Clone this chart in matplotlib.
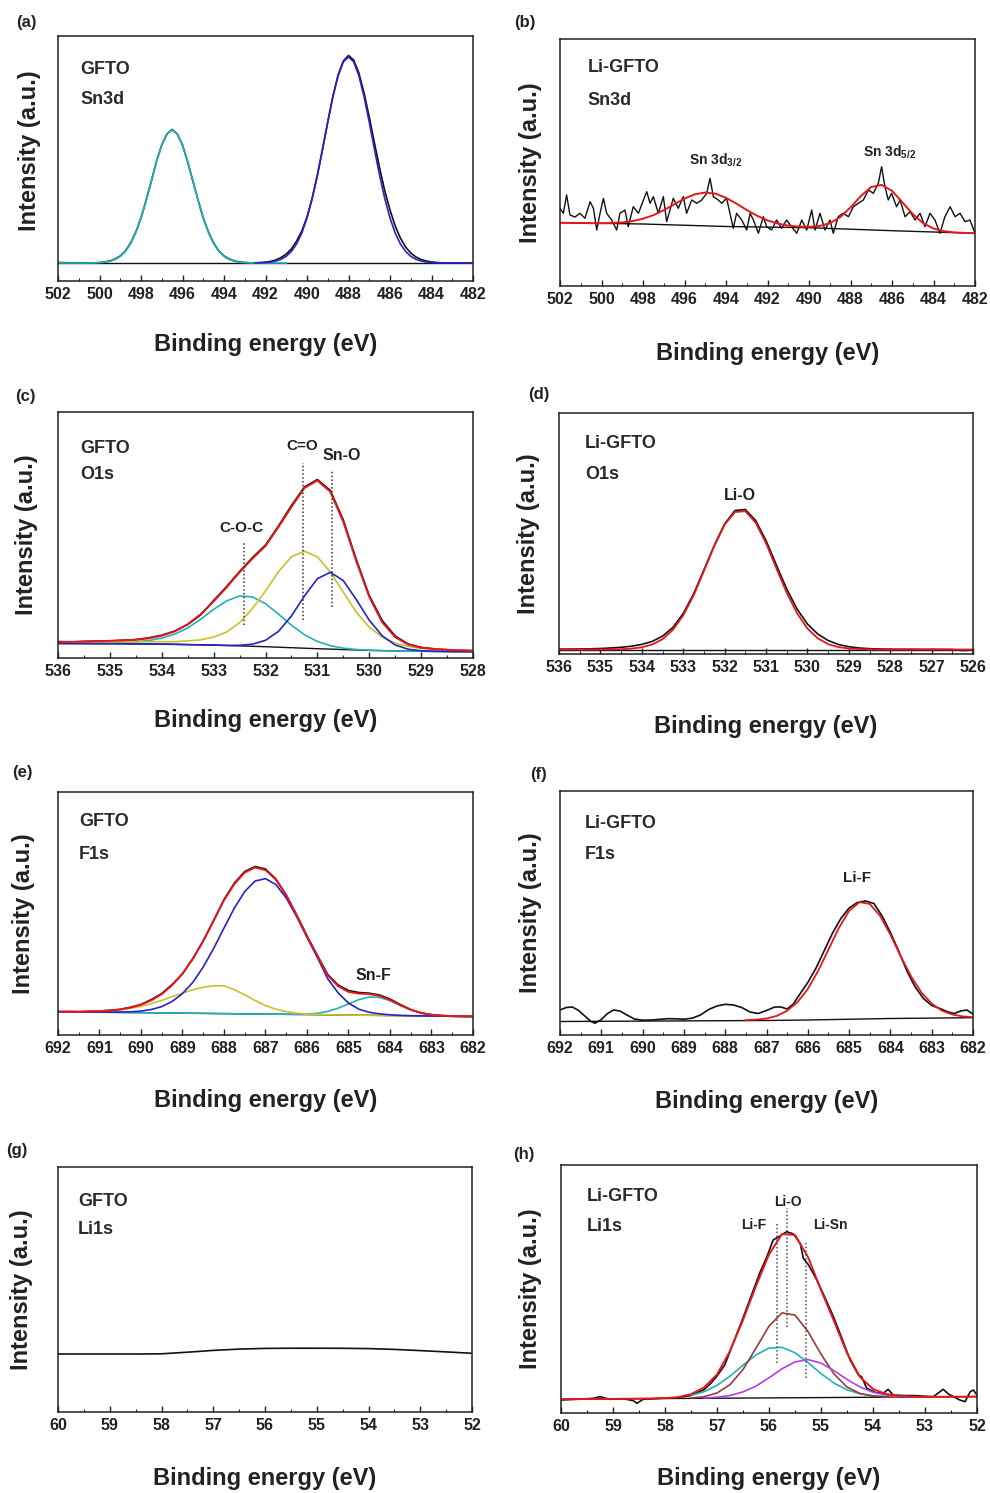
import numpy as np
import matplotlib
matplotlib.use("Agg")
import matplotlib.pyplot as plt

plt.rcParams["font.family"] = ["Liberation Sans", "DejaVu Sans"]
plt.rcParams["font.weight"] = "bold"
plt.rcParams["axes.labelweight"] = "bold"
plt.rcParams["mathtext.default"] = "regular"
plt.rcParams["lines.solid_joinstyle"] = "round"

TXT = "#222222"
CYAN = "#1fb3b8"
BLUE = "#2424c8"
RED = "#e8161b"
YEL = "#c9c22a"
BROWN = "#9a3b3b"
PURPLE = "#b23fe6"
BLK = "#111111"

# ---------------- (a) GFTO Sn3d  (grid step 0.25 eV) ----------------
a_cyan_start, a_blue_start, a_raw_start = 502.0, 492.5, 502.0
a_cyan = [18, 18, 18, 18, 18, 18, 18, 18.1, 18.4, 18.8, 19.7, 21.5, 24.6, 29.6, 37.4,
          48.5, 63.1, 80.7, 100.2, 119.5, 136, 147.1, 151, 147.1, 136, 119.5, 100.2,
          80.7, 63.1, 48.5, 37.4, 29.6, 24.6, 21.5, 19.7, 18.8, 18.4, 18.1, 18, 18,
          18, 18, 18, 18, 18]
a_blue = [18.1, 18.2, 18.5, 19, 20, 21.7, 24.7, 29.6, 37.1, 48, 63, 82.3, 105.5, 131.7,
          158.9, 184.3, 205.3, 219.2, 224, 219.2, 205.3, 184.3, 158.9, 131.7, 105.5,
          82.3, 63, 48, 37.1, 29.6, 24.7, 21.7, 20, 19, 18.5, 18.2, 18.1, 18, 18, 18,
          18, 18, 18]
a_raw = [18.5, 18.3, 18.2, 18, 18, 18, 18, 18.1, 18.4, 19, 20, 22, 25, 30, 38, 49, 63,
         81, 100, 120, 136, 147, 151.5, 147, 136, 119, 100, 81, 63, 49, 38, 30, 25, 22,
         20, 19, 18.5, 18.2, 18.2, 18.4, 18.8, 19.6, 21, 23.5, 27, 32, 40, 50, 64, 83,
         106, 132, 159, 185, 206, 220, 225.5, 221, 208, 188, 164, 138, 113, 90, 71, 55,
         43, 34, 28, 24, 21.5, 20, 19, 18.5, 18.2, 18, 18, 18, 18, 18, 18]
a_base_x, a_base_y = [502, 482], [18, 18]

# ---------------- (b) Li-GFTO Sn3d ----------------
b_raw_x = [502.00, 501.84, 501.68, 501.52, 501.28, 501.04, 500.80, 500.55, 500.39, 500.23,
           500.07, 499.91, 499.75, 499.51, 499.27, 499.11, 498.87, 498.71, 498.47, 498.22,
           497.98, 497.82, 497.66, 497.50, 497.26, 497.02, 496.86, 496.70, 496.54, 496.30,
           496.06, 495.90, 495.65, 495.41, 495.17, 494.93, 494.77, 494.61, 494.37, 494.21,
           493.97, 493.81, 493.65, 493.49, 493.24, 493.00, 492.84, 492.68, 492.44, 492.20,
           492.04, 491.80, 491.56, 491.32, 491.08, 490.84, 490.59, 490.35, 490.11, 489.87,
           489.71, 489.47, 489.23, 488.99, 488.83, 488.59, 488.35, 488.10, 487.86, 487.62,
           487.38, 487.14, 486.90, 486.66, 486.50, 486.34, 486.18, 486.02, 485.78, 485.61,
           485.37, 485.13, 484.89, 484.65, 484.41, 484.17, 483.93, 483.69, 483.45, 483.20,
           482.96, 482.72, 482.48, 482.24, 482.00]
b_raw_y = [77.7, 72.7, 91, 71, 69, 72.7, 67.7, 84.3, 77.7, 56, 72.7, 87.7, 72.7, 66, 56,
           72.7, 76, 59.3, 79.3, 72.7, 86, 94.3, 82.7, 89.3, 72.7, 89.3, 64.3, 76, 87.7,
           77.7, 89.3, 72.7, 86, 82.7, 86, 92.7, 107.7, 89.3, 86, 82.7, 87.7, 72.7, 57.7,
           72.7, 66, 56, 72.7, 66, 52.7, 69.3, 59.3, 56, 66, 57.7, 66, 59.3, 52.7, 66, 56,
           76, 56, 72.7, 56, 66, 52.7, 69.3, 72.7, 69.3, 79.3, 82.7, 86, 96, 92.7, 102.7,
           119.3, 99.3, 86, 92.7, 79.3, 86, 69.3, 74.3, 66, 72.7, 59.3, 72.7, 66, 52.7,
           69.3, 79.3, 69.3, 72.7, 64.3, 66, 52.7]
b_fit = [63.3, 63.1, 63.0, 62.8, 62.7, 63.1, 63.6, 64.9, 67.3, 70.8, 75.8, 81.6, 87.4,
         91.7, 93.5, 92.3, 88.2, 82.4, 76.0, 70.2, 65.6, 62.4, 60.4, 59.4, 59.2, 60.0,
         62.7, 68.8, 78.5, 90.0, 99.0, 101.1, 95.2, 83.7, 71.9, 62.8, 57.5, 54.8, 53.6,
         53.1, 52.7]  # 502 -> 482, step 0.5
b_base_x = [502, 498, 494, 490, 486, 482]
b_base_y = [63.3, 62.0, 59.5, 58.3, 55.3, 52.7]

# ---------------- (c) GFTO O1s (536 -> 528, step 0.25) ----------------
c_base = [14.5, 14.45, 14.4, 14.35, 14.3, 14.2, 14.1, 14.0, 13.9, 13.65, 13.4, 13.15, 12.9,
          12.5, 12.1, 11.7, 11.3, 10.8, 10.3, 9.8, 9.3, 8.9, 8.45, 8.0, 7.6, 7.35, 7.1,
          6.9, 6.7, 6.6, 6.5, 6.4, 6.3]
c_coc = [15.0, 15.05, 15.1, 15.25, 15.5, 15.7, 16.2, 17.5, 19.9, 23.85, 30.0, 38.75, 48.6,
         57.1, 62.0, 61.0, 54.3, 43.9, 32.8, 23.3, 16.5, 12.3, 9.85, 8.5, 7.8, 7.4, 7.1,
         6.9, 6.7, 6.6, 6.5, 6.4, 6.3]
c_co = [15.5, 15.55, 15.7, 15.85, 16.0, 16.1, 16.1, 16.2, 16.3, 16.35, 17.1, 18.15, 20.9,
        25.9, 35.3, 49.6, 67.0, 86.4, 101.2, 106.8, 101.1, 86.0, 65.85, 45.9, 30.8, 20.85,
        14.9, 11.6, 9.7, 8.85, 8.2, 7.7, 7.4]
c_sno = [14.5, 14.45, 14.4, 14.35, 14.3, 14.2, 14.1, 14.0, 13.9, 13.65, 13.4, 13.15, 12.9,
         12.6, 12.7, 13.8, 17.7, 26.6, 42.0, 61.9, 79.3, 85.7, 77.35, 58.4, 37.8, 22.15,
         13.0, 8.8, 7.2, 6.7, 6.5, 6.4, 6.3]
c_fit = [16.0, 16.15, 16.4, 16.75, 17.2, 17.6, 18.2, 19.7, 22.3, 26.55, 33.7, 43.75, 56.6,
         70.6, 85.8, 99.5, 112.0, 131.0, 151.0, 170.0, 177.5, 166.2, 136.15, 96.8, 61.2,
         35.7, 20.8, 13.5, 10.2, 8.95, 8.2, 7.7, 7.4]
c_raw = [16.5, 16.0, 16.6, 16.9, 17.0, 17.8, 18.4, 20.2, 22.8, 26.9, 33.4, 43.0, 57.5,
         71.5, 86.5, 100.5, 113.0, 132.0, 152.5, 171.0, 178.5, 167.5, 138.0, 98.5, 62.5,
         37.5, 22.0, 14.0, 10.6, 9.2, 8.2, 7.6, 7.2]

# ---------------- (d) Li-GFTO O1s (536 -> 526, step 0.25) ----------------
d_fit = [4.5, 4.5, 4.5, 4.5, 4.5, 4.6, 4.8, 5.4, 6.7, 9.5, 14.8, 24.1, 38.6, 58.5, 82.9,
         108.0, 129.4, 142.0, 142.8, 131.4, 110.9, 85.8, 61.3, 40.8, 25.5, 15.7, 9.9, 6.9,
         5.5, 4.9, 4.6, 4.5, 4.5, 4.5, 4.5, 4.5, 4.5, 4.5, 4.5, 4.5, 4.5]
d_raw = [4.8, 4.9, 5.0, 5.2, 5.5, 6.0, 6.7, 7.8, 9.6, 12.6, 17.8, 26.5, 40.5, 60.0, 84.0,
         108.5, 130.0, 143.5, 144.5, 133.5, 113.5, 89.0, 65.0, 45.0, 30.0, 20.0, 13.5, 9.5,
         7.3, 6.0, 5.3, 5.0, 4.8, 4.7, 4.7, 4.6, 4.6, 4.6, 4.5, 3.5, 4.0]
d_base_x, d_base_y = [536, 526], [4.5, 4.5]

# ---------------- (e) GFTO F1s (692 -> 682, step 0.25) ----------------
e_fit = [23.4, 23.3, 23.3, 23.4, 23.8, 24.4, 25.5, 27.4, 30.3, 34.7, 40.9, 49.8, 61.5,
         76.2, 94.2, 114.2, 134.8, 151.0, 162.5, 167.5, 164.9, 155.4, 139.7, 119.9, 98.8,
         79.2, 59.7, 48.85, 43.1, 41.4, 41.0, 39.1, 35.0, 29.8, 25.2, 22.1, 20.2, 19.3,
         18.8, 18.6, 18.5]
e_raw = [23.0, 23.5, 23.2, 23.8, 24.0, 24.8, 25.6, 27.8, 30.5, 35.5, 41.5, 50.5, 61.0,
         76.5, 94.0, 114.5, 135.5, 152.0, 163.5, 168.5, 166.0, 156.0, 140.0, 120.0, 99.0,
         79.5, 60.5, 50.0, 44.5, 42.5, 41.8, 40.0, 36.0, 30.5, 25.5, 22.0, 20.3, 19.4,
         19.0, 18.7, 18.6]
e_main = [23.3, 23.2, 23.1, 22.9, 22.9, 22.8, 22.9, 23.2, 23.9, 25.5, 28.4, 33.5, 41.4,
          52.7, 68.0, 86.5, 107.0, 127.0, 143.5, 154.0, 156.4, 150.4, 137.0, 118.4, 97.7,
          77.5, 56.2, 42.1, 31.9, 25.8, 22.7, 21.1, 20.2, 19.6, 19.3, 19.1, 19.0, 18.9,
          18.7, 18.6, 18.5]
e_yel = [23.4, 23.3, 23.3, 23.4, 23.7, 24.3, 25.2, 26.7, 28.7, 31.4, 34.6, 38.3, 42.0,
         45.2, 47.8, 49.2, 49.2, 45.3, 40.1, 34.5, 29.4, 25.8, 23.4, 21.8, 21.0, 20.55,
         20.3, 20.1, 19.9, 19.8, 19.7, 19.6, 19.5, 19.3, 19.2, 19.1, 19.0, 18.9, 18.7,
         18.6, 18.5]
e_snf = [23.3, 23.2, 23.1, 22.9, 22.8, 22.7, 22.6, 22.5, 22.3, 22.2, 22.1, 22.0, 21.9,
         21.7, 21.6, 21.5, 21.4, 21.3, 21.1, 21.0, 20.9, 20.8, 20.7, 20.7, 20.9, 21.7,
         23.6, 26.8, 31.1, 35.4, 38.0, 37.6, 34.3, 29.5, 25.1, 22.0, 20.2, 19.3, 18.8,
         18.6, 18.5]
e_base_x, e_base_y = [692, 682], [23.3, 18.5]

# ---------------- (f) Li-GFTO F1s ----------------
f_raw_x = [692.0, 691.85, 691.7, 691.55, 691.4, 691.25, 691.15, 691.0, 690.85, 690.7,
           690.55, 690.4, 690.2, 690.0, 689.8, 689.6, 689.4, 689.2, 689.0, 688.8, 688.6,
           688.4, 688.2, 688.0, 687.8, 687.6, 687.4, 687.2, 687.0, 686.8, 686.65, 686.5,
           686.35, 686.2, 686.0, 685.8, 685.6, 685.4, 685.2, 685.0, 684.8, 684.6, 684.4,
           684.2, 684.0, 683.8, 683.6, 683.4, 683.2, 683.0, 682.8, 682.6, 682.45, 682.3,
           682.15, 682.0]
f_raw_y = [25.0, 27.5, 28.0, 24.5, 19.0, 13.5, 11.8, 15.5, 21.5, 25.0, 24.0, 20.5, 16.0,
           14.8, 15.0, 15.6, 16.3, 16.2, 15.8, 16.8, 20.0, 25.5, 29.0, 30.7, 30.0, 27.5,
           23.0, 21.5, 24.5, 28.0, 28.0, 26.0, 31.0, 40.5, 52.5, 67.0, 84.5, 102.0, 116.5,
           127.0, 132.5, 134.0, 131.5, 119.0, 102.5, 84.0, 64.0, 48.0, 36.5, 29.5, 26.5,
           23.0, 21.5, 24.0, 25.0, 21.0]
f_fit = [14.9, 15.4, 16.5, 19.1, 24.3, 32.9, 46.0, 64.1, 85.4, 106.9, 124.1, 132.8, 131.1,
         119.2, 100.3, 78.8, 58.7, 42.5, 31.3, 24.3, 20.5, 18.6, 17.85]  # 687.5 -> 682
f_base_x = [692, 687, 686, 684, 682]
f_base_y = [13.5, 14.5, 15.0, 16.5, 17.3]

# ---------------- (g) GFTO Li1s ----------------
g_x = [60, 59, 58.5, 58, 57.5, 57, 56.5, 56, 55.5, 55, 54.5, 54, 53.5, 53, 52.5, 52]
g_y = [58, 58, 58, 58.2, 59.8, 61.6, 62.9, 63.6, 63.8, 63.8, 63.7, 63.4, 62.6, 61.4,
       60.1, 58.7]

# ---------------- (h) Li-GFTO Li1s ----------------
h_raw_x = [60.0, 59.70, 59.38, 59.25, 59.06, 58.80, 58.61, 58.54, 58.42, 58.10, 57.78,
           57.52, 57.26, 57.13, 57.01, 56.85, 56.69, 56.50, 56.30, 56.17, 56.04, 55.92,
           55.79, 55.66, 55.53, 55.40, 55.34, 55.24, 55.08, 54.92, 54.76, 54.60, 54.44,
           54.28, 54.22, 54.12, 53.95, 53.80, 53.71, 53.61, 53.40, 53.16, 52.84, 52.65,
           52.55, 52.33, 52.23, 52.13, 52.07, 52.0]
h_raw_y = [13.0, 13.7, 14.7, 16.3, 13.7, 14.3, 12.3, 9.7, 13.7, 14.7, 15.3, 17.3, 23.0,
           29.0, 36.3, 48.0, 69.7, 95.0, 123.0, 141.0, 156.3, 173.0, 177.0, 181.3, 179.0,
           169.7, 154.7, 148.0, 133.0, 115.0, 96.3, 75.0, 53.0, 38.0, 36.3, 24.7, 20.5,
           19.7, 23.7, 18.0, 17.5, 17.3, 16.3, 23.7, 19.0, 13.0, 11.3, 21.3, 23.0, 18.0]
h_fit = [13.8, 13.9, 14.0, 14.0, 14.1, 14.2, 14.35, 14.5, 14.85, 15.8, 18.8, 25.5, 38.5,
         62.0, 93.0, 127.0, 158.5, 179.0, 178.0, 156.0, 123.0, 92.0, 60.0, 36.0, 24.0,
         19.0, 17.0, 16.3, 16.15, 16.2, 16.3, 16.3, 16.4]  # 60 -> 52
h_lio = [15.0, 16.3, 20.0, 28.3, 43.5, 64.8, 86.9, 100.1, 97.9, 81.5, 58.9, 39.0, 26.0,
         19.5, 16.9, 16.2, 16.0]  # 57.5 -> 53.5
h_lif = [17.6, 21.3, 27.6, 36.8, 47.8, 58.2, 64.9, 65.7, 60.2, 50.4, 39.4, 29.9, 23.2,
         19.2, 17.2, 16.4, 16.05]  # 57.5 -> 53.5
h_lisn = [15.0, 15.8, 17.5, 21.1, 26.9, 35.2, 44.2, 51.1, 53.4, 49.9, 42.4, 33.6, 26.0,
          20.8, 18.0, 16.7, 16.2]  # 57.25 -> 53.25
h_base_x, h_base_y = [60, 52], [13.8, 16.4]


def grid(start, step, vals):
    return start - step * np.arange(len(vals))


W, H = 990, 1493
fig = plt.figure(figsize=(W / 100, H / 100), dpi=100)


def make_ax(box, xr, major, minor, xlab_y, ylab_x, ylab_y=0.5):
    left, right, top, bottom = box
    ax = fig.add_axes([left / W, 1 - bottom / H, (right - left) / W, (bottom - top) / H])
    ax.set_xlim(xr[0], xr[1])
    ax.set_ylim(0, bottom - top)
    ax.set_yticks([])
    ticks = np.arange(xr[0], xr[1] - 0.01, -major)
    ax.set_xticks(ticks)
    ax.set_xticklabels([f"{t:g}" for t in ticks])
    ax.set_xticks(np.arange(xr[0], xr[1] - 0.01, -minor), minor=True)
    ax.tick_params(axis="x", which="both", direction="in", colors=TXT)
    ax.tick_params(axis="x", which="major", length=4, width=1, labelsize=11.5, pad=4)
    ax.tick_params(axis="x", which="minor", length=2.5, width=0.8)
    for s in ax.spines.values():
        s.set_linewidth(1.1)
        s.set_color(TXT)
    ax.set_xlabel("Binding energy (eV)", fontsize=17, color=TXT)
    ax.xaxis.set_label_coords(0.5, xlab_y)
    ax.set_ylabel("Intensity (a.u.)", fontsize=17, color=TXT)
    ax.yaxis.set_label_coords(ylab_x, ylab_y)
    return ax


def tag(ax, x, y1, y2, s1, s2):
    ax.text(x, y1, s1, transform=ax.transAxes, fontsize=13, color="#2a2a2a", va="center")
    ax.text(x, y2, s2, transform=ax.transAxes, fontsize=13, color="#2a2a2a", va="center")


def vdot(ax, x, y0, y1, color="#333333"):
    ax.plot([x, x], [y0, y1], color=color, lw=1.1, ls=(0, (1, 1.5)), zorder=6)


LW = 1.2

# (a)
ax = make_ax((58, 473, 36, 281), (502, 482), 2, 1, -0.212, -0.04, 0.53)
ax.plot(a_base_x, a_base_y, color=BLK, lw=1.0)
ax.plot(grid(a_raw_start, 0.25, a_raw), a_raw, color=BLK, lw=LW)
ax.plot(grid(a_cyan_start, 0.25, a_cyan), a_cyan, color=CYAN, lw=LW)
ax.plot(grid(a_blue_start, 0.25, a_blue), a_blue, color=BLUE, lw=LW)
tag(ax, 0.053, 0.865, 0.74, "GFTO", "Sn3d")

# (b)
ax = make_ax((560, 975, 39, 286), (502, 482), 2, 1, -0.228, -0.043)
ax.plot(b_raw_x, b_raw_y, color=BLK, lw=1.0)
ax.plot(b_base_x, b_base_y, color=BLK, lw=1.0)
ax.plot(grid(502, 0.5, b_fit), b_fit, color=RED, lw=1.4)
tag(ax, 0.067, 0.884, 0.753, "Li-GFTO", "Sn3d")
ax.text(494.5, 126, r"Sn 3d$_{\mathregular{3/2}}$", fontsize=10, color=TXT, ha="center", va="center")
ax.text(486.1, 134, r"Sn 3d$_{\mathregular{5/2}}$", fontsize=10, color=TXT, ha="center", va="center")

# (c)
ax = make_ax((58, 473, 412, 658), (536, 528), 1, 0.5, -0.207, -0.048)
xc = grid(536, 0.25, c_base)
ax.plot(xc, c_base, color=BLK, lw=1.0)
ax.plot(xc, c_raw, color=BLK, lw=LW)
ax.plot(xc, c_coc, color=CYAN, lw=LW)
ax.plot(xc, c_co, color=YEL, lw=LW)
ax.plot(xc, c_sno, color=BLUE, lw=LW)
ax.plot(xc, c_fit, color=RED, lw=1.4)
vdot(ax, 532.41, 33, 116)
vdot(ax, 531.27, 38, 195)
vdot(ax, 530.72, 51, 188)
ax.text(532.46, 130, "C-O-C", fontsize=11, color=TXT, ha="center", va="center")
ax.text(531.30, 212, "C=O", fontsize=11, color=TXT, ha="center", va="center")
ax.text(530.53, 203, "Sn-O", fontsize=11.5, color=TXT, ha="center", va="center")
tag(ax, 0.053, 0.852, 0.744, "GFTO", "O1s")

# (d)
ax = make_ax((559, 973, 413, 654), (536, 526), 1, 0.5, -0.253, -0.046)
xd = grid(536, 0.25, d_fit)
ax.plot(d_base_x, d_base_y, color=BLK, lw=1.0)
ax.plot(xd, d_raw, color=BLK, lw=LW)
ax.plot(xd, d_fit, color=RED, lw=1.3)
ax.text(531.63, 159, "Li-O", fontsize=11.5, color=TXT, ha="center", va="center")
tag(ax, 0.063, 0.874, 0.743, "Li-GFTO", "O1s")

# (e)
ax = make_ax((58, 473, 792, 1035), (692, 682), 1, 0.5, -0.222, -0.055)
xe = grid(692, 0.25, e_fit)
ax.plot(e_base_x, e_base_y, color=BLK, lw=1.0)
ax.plot(xe, e_raw, color=BLK, lw=LW)
ax.plot(xe, e_snf, color=CYAN, lw=LW)
ax.plot(xe, e_yel, color=YEL, lw=LW)
ax.plot(xe, e_main, color=BLUE, lw=LW)
ax.plot(xe, e_fit, color=RED, lw=1.4)
ax.text(684.4, 60, "Sn-F", fontsize=11.5, color=TXT, ha="center", va="center")
tag(ax, 0.05, 0.878, 0.741, "GFTO", "F1s")

# (f)
ax = make_ax((560, 973, 791, 1035), (692, 682), 1, 0.5, -0.227, -0.043)
ax.plot(f_base_x, f_base_y, color=BLK, lw=1.0)
ax.plot(f_raw_x, f_raw_y, color=BLK, lw=LW)
ax.plot(grid(687.5, 0.25, f_fit), f_fit, color=RED, lw=1.3)
ax.text(684.82, 157, "Li-F", fontsize=11, color=TXT, ha="center", va="center")
tag(ax, 0.061, 0.868, 0.738, "Li-GFTO", "F1s")

# (g)
ax = make_ax((58, 472, 1167, 1412), (60, 52), 1, 0.5, -0.225, -0.06)
ax.plot(g_x, g_y, color=BLK, lw=LW)
tag(ax, 0.048, 0.858, 0.743, "GFTO", "Li1s")

# (h)
ax = make_ax((561, 977, 1165, 1413), (60, 52), 1, 0.5, -0.218, -0.046)
ax.plot(h_base_x, h_base_y, color=BLK, lw=1.0)
ax.plot(h_raw_x, h_raw_y, color=BLK, lw=LW)
ax.plot(grid(57.5, 0.25, h_lif), h_lif, color=CYAN, lw=LW)
ax.plot(grid(57.5, 0.25, h_lio), h_lio, color=BROWN, lw=LW)
ax.plot(grid(57.25, 0.25, h_lisn), h_lisn, color=PURPLE, lw=LW)
ax.plot(grid(60, 0.25, h_fit), h_fit, color=RED, lw=1.4)
vdot(ax, 55.85, 50, 190, "#4a4a6a")
vdot(ax, 55.66, 86, 205, "#4a4a6a")
vdot(ax, 55.29, 35, 171, "#4a4a6a")
ax.text(55.63, 211, "Li-O", fontsize=10, color=TXT, ha="center", va="center")
ax.text(56.30, 188, "Li-F", fontsize=10, color=TXT, ha="center", va="center")
ax.text(55.15, 188, "Li-Sn", fontsize=10, color=TXT, ha="left", va="center")
tag(ax, 0.0625, 0.872, 0.751, "Li-GFTO", "Li1s")

# panel letters
for s, x, y in [("(a)", 16, 22), ("(b)", 514, 22), ("(c)", 15, 396), ("(d)", 528, 395),
                ("(e)", 12, 773), ("(f)", 530, 775), ("(g)", 6, 1151), ("(h)", 513, 1154)]:
    fig.text(x / W, 1 - y / H, s, fontsize=12, color=TXT, va="center", ha="left")

fig.savefig("out.png", dpi=100)
